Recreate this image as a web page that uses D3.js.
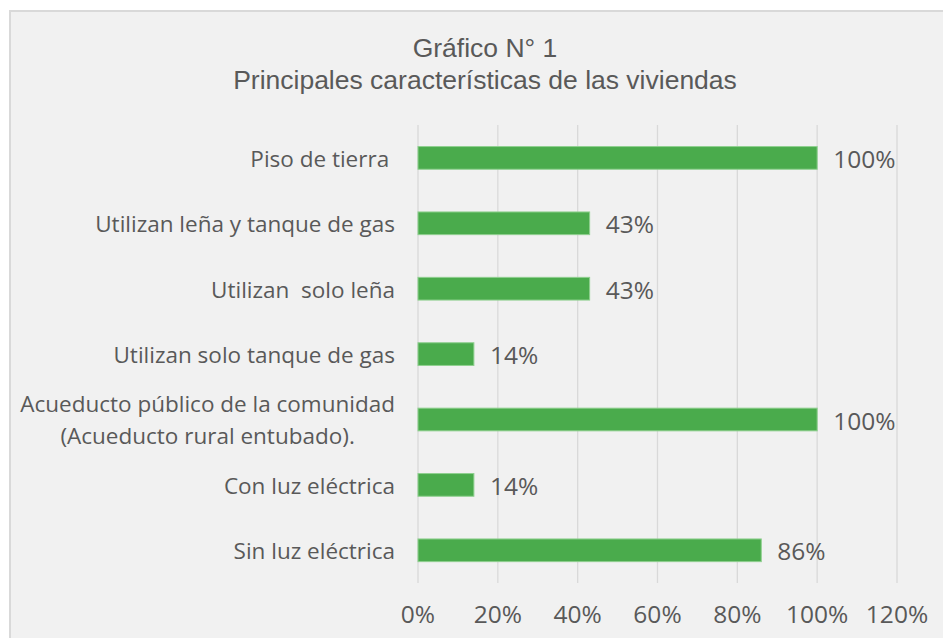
<!DOCTYPE html>
<html>
  <head>
    <title>Gráfico N° 1</title>
    <script src="https://d3js.org/d3.v7.min.js"></script>
    <style>
      body { margin: 0; background: #fff; }
    </style>
  </head>
  <body>
    <svg width="943" height="638"></svg>
    <script>
      const categories = [
        "Piso de tierra ",
        "Utilizan leña y tanque de gas",
        "Utilizan  solo leña",
        "Utilizan solo tanque de gas",
        "Acueducto público de la comunidad|(Acueducto rural entubado).",
        "Con luz eléctrica",
        "Sin luz eléctrica"
      ];
      const values = [1.00, 0.43, 0.43, 0.14, 1.00, 0.14, 0.86];
      const ticks = [0, 0.2, 0.4, 0.6, 0.8, 1.0, 1.2];
      const titleLines = ["Gráfico N° 1", "Principales características de las viviendas"];

      const svg = d3.select("svg");
      const labelFont = "'Open Sans', 'Noto Sans', sans-serif";
      const textColor = "#595959";
      const pct = d3.format(".0%");

      // chart frame
      svg.append("rect")
        .attr("x", 10).attr("y", 11)
        .attr("width", 950).attr("height", 650)
        .attr("fill", "#f1f1f1")
        .attr("stroke", "#d9d9d9")
        .attr("stroke-width", 2);

      svg.selectAll(".title").data(titleLines).enter().append("text")
        .attr("x", 485)
        .attr("y", (d, i) => 57 + i * 32)
        .attr("text-anchor", "middle")
        .attr("font-family", "'Liberation Sans', Arial, sans-serif")
        .attr("font-size", 26.5)
        .attr("fill", textColor)
        .text(d => d);

      const x = d3.scaleLinear().domain([0, 1.2]).range([418, 897]);
      const y = d3.scaleBand().domain(categories).range([125.2, 583]).paddingInner(0.653).paddingOuter(0.3265);

      // gridlines
      svg.append("g").selectAll("line").data(ticks).enter().append("line")
        .attr("x1", d => x(d)).attr("x2", d => x(d))
        .attr("y1", 125).attr("y2", 583)
        .attr("stroke", "#d9d9d9")
        .attr("stroke-width", 1.3);

      // tick labels
      svg.append("g").selectAll("text").data(ticks).enter().append("text")
        .attr("x", d => x(d))
        .attr("y", 623)
        .attr("text-anchor", "middle")
        .attr("font-family", labelFont)
        .attr("font-size", 24.5)
        .attr("fill", textColor)
        .text(d => pct(d));

      // bars
      svg.append("g").selectAll("rect").data(categories).enter().append("rect")
        .attr("x", x(0))
        .attr("y", d => y(d))
        .attr("width", (d, i) => x(values[i]) - x(0))
        .attr("height", y.bandwidth())
        .attr("fill", "#4aab4c")
        .attr("stroke", "#8fd08f")
        .attr("stroke-width", 1);

      // value labels
      svg.append("g").selectAll("text").data(categories).enter().append("text")
        .attr("x", (d, i) => x(values[i]) + 16)
        .attr("y", d => y(d) + y.bandwidth() / 2 + 10)
        .attr("font-family", labelFont)
        .attr("font-size", 24.5)
        .attr("fill", textColor)
        .text((d, i) => pct(values[i]));

      // category labels
      const cat = svg.append("g").selectAll("text").data(categories).enter().append("text")
        .attr("font-family", labelFont)
        .attr("font-size", 22.5)
        .attr("fill", textColor)
        .attr("xml:space", "preserve")
        .style("white-space", "pre");
      cat.each(function(d) {
        const lines = d.split("|");
        const t = d3.select(this);
        const cy = y(d) + y.bandwidth() / 2;
        if (lines.length === 1) {
          t.attr("text-anchor", "end").attr("x", 395).attr("y", cy + 9).text(d);
        } else {
          t.attr("text-anchor", "middle");
          const spans = lines.map((l, j) => t.append("tspan")
            .attr("y", cy - 8 + j * 32)
            .text(l));
          const w = d3.max(spans, s => s.node().getComputedTextLength());
          spans.forEach(s => s.attr("x", 395 - w / 2));
        }
      });
    </script>
  </body>
</html>
